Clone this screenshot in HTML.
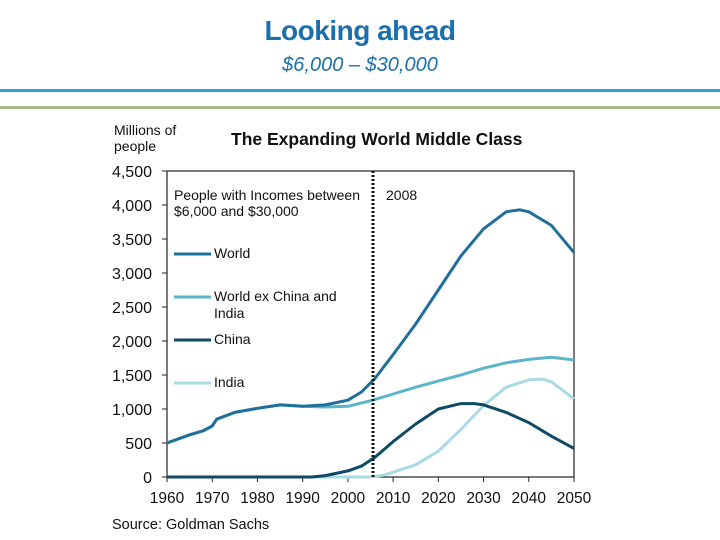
<!DOCTYPE html>
<html><head><meta charset="utf-8"><style>
body{margin:0;width:720px;height:540px;background:#fff;overflow:hidden;position:relative;font-family:"Liberation Sans",sans-serif}
.t{position:absolute;left:0;width:720px;text-align:center;color:#1a6fae;font-family:"Liberation Sans",sans-serif}
</style></head><body>
<div class="t" style="top:15px;font-size:28px;font-weight:bold;letter-spacing:-0.5px">Looking ahead</div>
<div class="t" style="top:54px;font-size:20px;font-style:italic">$6,000 – $30,000</div>
<div style="position:absolute;left:0;top:89px;width:720px;height:3px;background:#2aa3cf"></div>
<div style="position:absolute;left:0;top:106px;width:720px;height:3px;background:#a3bb88"></div>
<svg id="c" width="720" height="540" style="position:absolute;left:0;top:0" font-family="Liberation Sans, sans-serif"></svg>
<script>
const yTicks=[0,500,1000,1500,2000,2500,3000,3500,4000,4500];
const xTicks=[1960,1970,1980,1990,2000,2010,2020,2030,2040,2050];
const worldYears=[1960,1965,1968,1970,1971,1975,1980,1985,1990,1995,2000,2003,2006,2010,2015,2020,2025,2030,2035,2038,2040,2045,2050];
const worldVals=[500,620,680,750,850,950,1010,1060,1040,1060,1130,1250,1450,1800,2250,2750,3250,3650,3900,3930,3900,3700,3300];
const exYears=[1960,1965,1968,1970,1971,1975,1980,1985,1990,1995,2000,2005,2010,2015,2020,2025,2030,2035,2040,2045,2050];
const exVals=[500,620,680,750,850,950,1010,1060,1040,1030,1040,1120,1220,1320,1410,1500,1600,1680,1730,1760,1720];
const chinaYears=[1960,1992,1995,2000,2003,2006,2010,2015,2020,2025,2028,2030,2035,2040,2045,2050];
const chinaVals=[0,0,20,90,160,290,520,780,1000,1080,1080,1060,950,800,600,420];
const indiaYears=[1960,2005,2008,2010,2015,2020,2025,2030,2035,2040,2043,2045,2050];
const indiaVals=[0,0,30,70,180,380,700,1050,1320,1430,1440,1400,1150];
const svg=document.getElementById('c');const NS='http://www.w3.org/2000/svg';
const X=v=>167+(v-1960)*(574-167)/90, Y=v=>477-v*(477-171)/4500;
function el(t,a,txt){const e=document.createElementNS(NS,t);for(const k in a)e.setAttribute(k,a[k]);if(txt!=null)e.textContent=txt;svg.appendChild(e);return e;}
let e=el('rect',{x:167,y:171,width:407,height:306,fill:'none',stroke:'#222','stroke-width':1.2});


yTicks.forEach(v=>{
 e=el('text',{x:152,y:Y(v)+6,'text-anchor':'end','font-size':16,fill:'#111'},v.toLocaleString('en-US'));
 
 
 el('line',{x1:162,x2:167,y1:Y(v),y2:Y(v),stroke:'#222'});
});
xTicks.forEach(v=>{
 e=el('text',{x:X(v),y:503,'text-anchor':'middle','font-size':15.5,fill:'#111'},v);
 
 
 el('line',{x1:X(v),x2:X(v),y1:477,y2:482,stroke:'#222'});
});
function series(xs,ys,col,name){
 const d=xs.map((x,i)=>(i?'L':'M')+X(x).toFixed(1)+','+Y(ys[i]).toFixed(1)).join('');
 const p=el('path',{d:d,fill:'none',stroke:col,'stroke-width':3,'stroke-linejoin':'round'});
 
 
}
series(indiaYears,indiaVals,'#a8dbe6','india-line');
series(exYears,exVals,'#5ab6c8','world-ex-line');
series(chinaYears,chinaVals,'#0e4a66','china-line');
series(worldYears,worldVals,'#1f6f9a','world-line');
e=el('line',{x1:373,x2:373,y1:171,y2:477,stroke:'#111','stroke-width':3,'stroke-dasharray':'2,2'});


e=el('text',{x:386,y:200,'font-size':14,fill:'#111'},'2008');


e=el('text',{x:174,y:200,'font-size':14,fill:'#111'},'People with Incomes between');


el('text',{x:174,y:216,'font-size':14,fill:'#111'},'$6,000 and $30,000');
const leg=[['World','#1f6f9a',253],['World ex China and','#5ab6c8',296],['China','#0e4a66',339],['India','#a8dbe6',382]];
leg.forEach(l=>{
 el('line',{x1:174,x2:211,y1:l[2]+1,y2:l[2]+1,stroke:l[1],'stroke-width':3});
 e=el('text',{x:214,y:l[2]+5,'font-size':14,fill:'#111'},l[0]);
 
 
});
el('text',{x:214,y:318,'font-size':14,fill:'#111'},'India');
e=el('text',{x:231,y:145,'font-size':17.5,'font-weight':'bold',fill:'#111'},'The Expanding World Middle Class');


e=el('text',{x:114,y:135,'font-size':14,fill:'#111'},'Millions of');


el('text',{x:114,y:151,'font-size':14,fill:'#111'},'people');
e=el('text',{x:112,y:529,'font-size':14.5,fill:'#111'},'Source: Goldman Sachs');


</script>
</body></html>
